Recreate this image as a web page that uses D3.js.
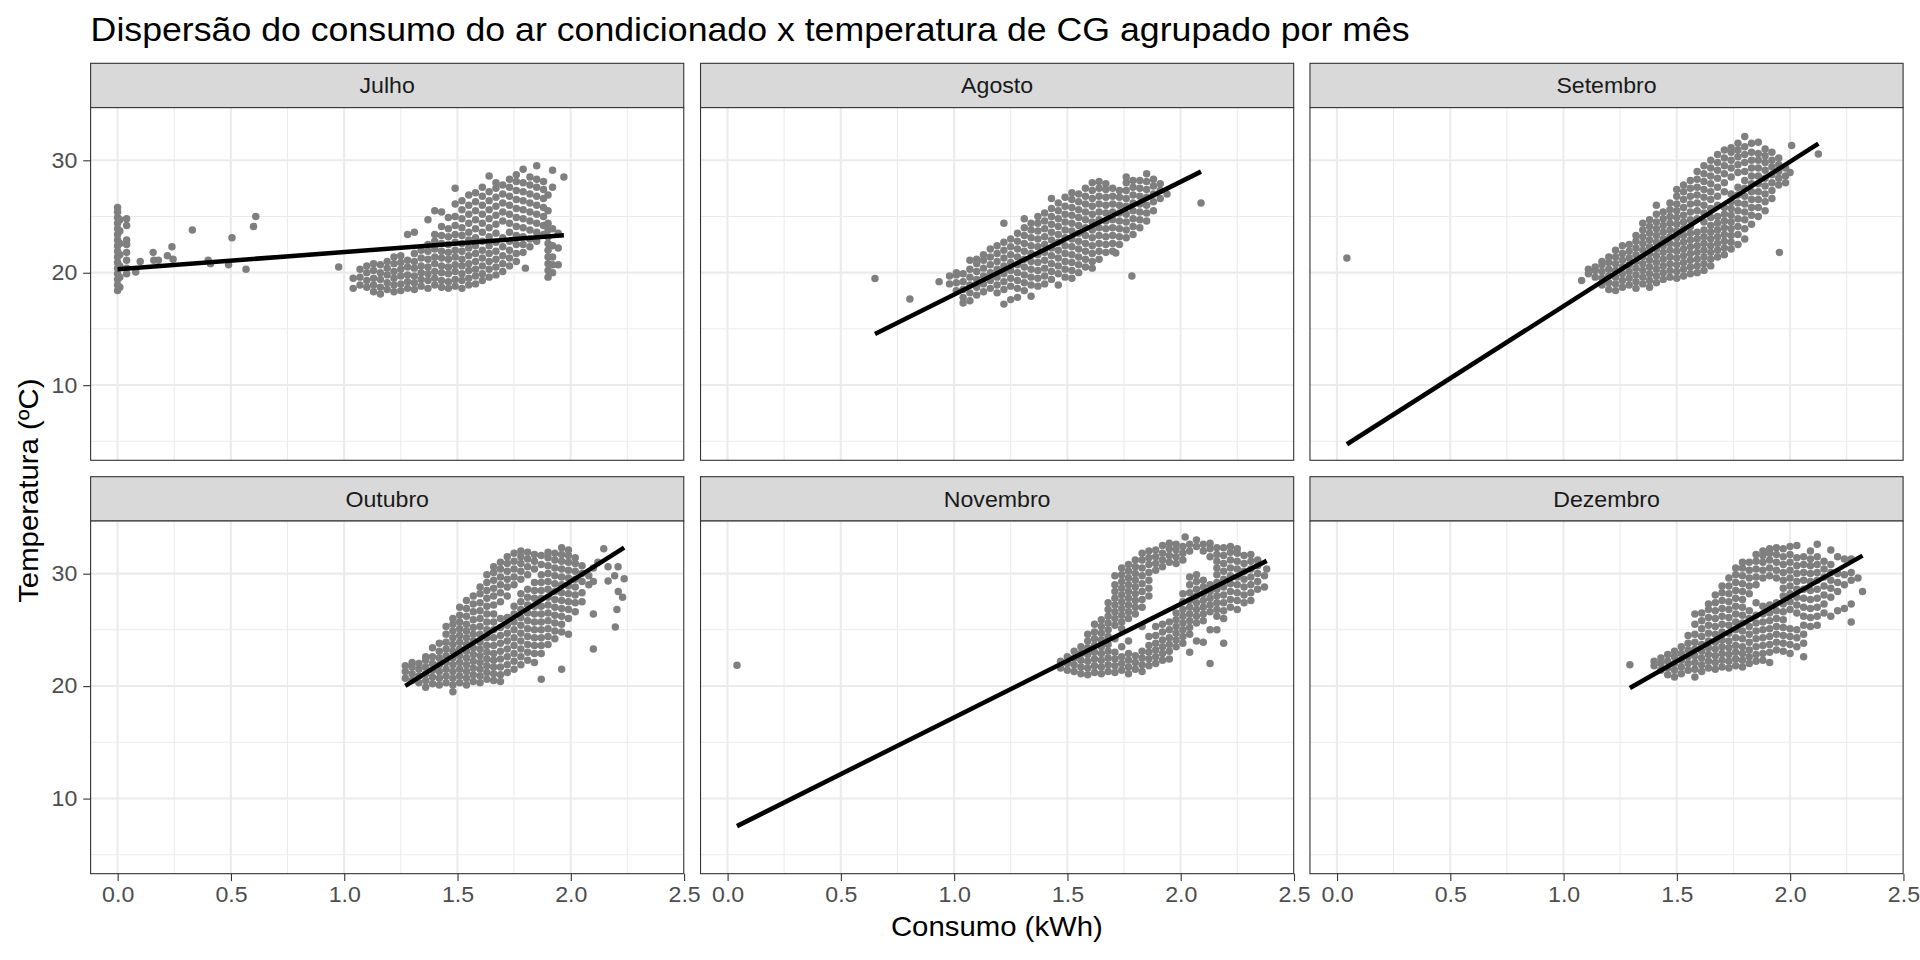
<!DOCTYPE html>
<html>
<head>
<meta charset="utf-8">
<script src="https://cdn.jsdelivr.net/npm/d3@7"></script>
<style>
  body { margin: 0; background: #fff; }
  svg { display: block; }
  text { font-family: "Liberation Sans", Arial, Helvetica, sans-serif; }
</style>
</head>
<body>
<div id="chart"></div>
<script>
// facet labels
var months = ['Julho', 'Agosto', 'Setembro', 'Outubro', 'Novembro', 'Dezembro'];

// each row: [consumo (kWh), temperatura, temperatura, ...]
var julho = [
  [0.0, 18.4, 18.9, 19.4, 19.9, 20.4, 20.9, 21.4, 21.9, 22.4, 22.9, 23.4, 23.9, 24.4, 24.9, 25.4, 25.8],
  [0.01, 18.7, 19.6, 20.6, 21.6, 22.6, 23.7, 24.7],
  [0.04, 19.9, 20.4, 21.1, 21.8, 22.5, 22.9, 24.2, 24.8],
  [0.08, 20.05], [0.1, 21.0], [0.157, 21.8], [0.16, 21.1], [0.18, 21.1], [0.22, 21.5],
  [0.24, 22.3], [0.245, 21.2], [0.33, 23.8], [0.4, 21.1], [0.41, 20.8], [0.49, 20.7],
  [0.505, 23.1], [0.567, 20.3], [0.6, 24.1], [0.61, 25.0], [0.976, 20.5],
  [1.04, 18.6, 19.5],
  [1.07, 18.9, 19.6, 20.3],
  [1.10, 18.7, 19.3, 20.0, 20.6],
  [1.13, 18.3, 18.9, 19.5, 20.2, 20.8],
  [1.16, 18.1, 18.7, 19.4, 20.0, 20.7],
  [1.19, 18.5, 19.1, 19.8, 20.4, 21.0],
  [1.22, 18.3, 18.9, 19.5, 20.1, 20.8, 21.4],
  [1.25, 18.4, 19.0, 19.7, 20.3, 20.9, 21.5],
  [1.28, 18.6, 19.2, 19.8, 20.5, 21.1, 23.4],
  [1.31, 18.5, 19.1, 19.7, 20.4, 21.0, 21.7, 23.6],
  [1.34, 18.8, 19.4, 20.0, 20.6, 21.3, 22.0],
  [1.37, 18.6, 19.3, 19.9, 20.5, 21.2, 21.9, 22.5, 24.7],
  [1.40, 18.9, 19.5, 20.1, 20.8, 21.4, 22.1, 22.8, 23.4, 25.5],
  [1.43, 18.7, 19.3, 20.0, 20.6, 21.3, 21.9, 22.6, 23.3, 24.1, 25.4],
  [1.46, 18.6, 19.2, 19.9, 20.5, 21.2, 21.8, 22.5, 23.2, 23.9, 24.9],
  [1.49, 18.8, 19.4, 20.1, 20.7, 21.4, 22.0, 22.7, 23.4, 24.2, 25.0, 26.1, 27.5],
  [1.52, 18.6, 19.3, 19.9, 20.6, 21.2, 21.9, 22.6, 23.3, 24.0, 24.8, 25.6, 26.4],
  [1.55, 18.9, 19.5, 20.2, 20.8, 21.5, 22.2, 22.9, 23.6, 24.4, 25.2, 26.0, 26.9],
  [1.58, 19.0, 19.7, 20.3, 21.0, 21.7, 22.4, 23.1, 23.9, 24.7, 25.5, 26.3, 27.1],
  [1.61, 19.3, 19.9, 20.6, 21.3, 22.0, 22.8, 23.6, 24.4, 25.2, 26.0, 26.8, 27.6],
  [1.64, 19.6, 20.3, 21.0, 21.7, 22.4, 23.2, 24.0, 24.8, 25.6, 26.4, 27.2, 28.6],
  [1.67, 19.8, 20.5, 21.2, 21.9, 22.7, 23.5, 24.3, 25.1, 25.9, 26.7, 27.5, 28.0],
  [1.70, 20.1, 20.8, 21.5, 22.3, 23.1, 24.6, 25.4, 26.2, 27.0, 27.8],
  [1.73, 20.6, 21.3, 22.0, 22.8, 23.6, 24.4, 25.2, 26.0, 26.8, 27.6, 28.3],
  [1.76, 21.0, 21.7, 22.5, 23.3, 24.1, 24.9, 25.7, 26.5, 27.3, 28.1, 28.7],
  [1.79, 21.8, 22.5, 23.2, 24.0, 24.8, 25.6, 26.4, 27.2, 28.0, 29.2],
  [1.80, 20.4],
  [1.82, 22.3, 23.0, 23.8, 24.6, 25.4, 26.2, 27.0, 27.8, 28.5],
  [1.85, 22.8, 23.6, 24.4, 25.2, 26.0, 26.8, 27.6, 28.3, 29.5],
  [1.88, 23.4, 24.2, 25.0, 25.8, 26.6, 27.4, 28.1],
  [1.90, 19.6, 20.2, 20.8, 21.4, 22.0, 22.6, 23.2, 23.8, 24.4, 25.5, 26.9],
  [1.92, 20.0, 20.7, 21.4, 22.4, 23.9, 27.6, 29.1],
  [1.945, 20.7, 22.2, 23.5],
  [1.97, 28.5]
];

var agosto = [
  [0.651, 19.47], [0.805, 17.66], [0.934, 19.2], [2.09, 26.2], [1.785, 19.7], [1.714, 21.75],
  [0.98, 19.0, 19.7],
  [1.01, 18.4, 19.1, 19.8, 20.0],
  [1.04, 17.3, 17.8, 18.5, 19.2, 19.9],
  [1.07, 17.5, 18.2, 18.9, 19.6, 20.3, 21.1],
  [1.10, 18.0, 18.7, 19.4, 20.1, 20.8, 21.2],
  [1.13, 18.3, 19.0, 19.7, 20.4, 21.1, 21.6],
  [1.16, 18.6, 19.3, 20.0, 20.7, 21.4, 22.1],
  [1.19, 18.2, 18.9, 19.6, 20.3, 21.0, 21.7, 22.4],
  [1.22, 17.2, 18.5, 19.2, 19.9, 20.6, 21.3, 22.0, 22.7, 24.4],
  [1.25, 17.6, 18.8, 19.5, 20.2, 20.9, 21.6, 22.3, 23.0],
  [1.28, 17.8, 18.6, 19.3, 20.0, 20.7, 21.4, 22.1, 22.8, 23.5],
  [1.31, 18.4, 19.1, 19.8, 20.5, 21.2, 21.9, 22.6, 23.3, 24.0, 24.8],
  [1.34, 17.9, 18.9, 19.6, 20.3, 21.0, 21.7, 22.4, 23.1, 23.8, 24.4],
  [1.37, 18.8, 19.5, 20.2, 20.9, 21.6, 22.3, 23.0, 23.7, 24.4, 25.0],
  [1.40, 19.0, 19.7, 20.4, 21.1, 21.8, 22.5, 23.2, 23.9, 24.6, 25.3],
  [1.43, 19.4, 20.1, 20.8, 21.5, 22.2, 22.9, 23.6, 24.3, 25.0, 25.7, 26.6],
  [1.46, 18.9, 19.9, 20.6, 21.3, 22.0, 22.7, 23.4, 24.1, 24.8, 25.5, 26.2],
  [1.49, 19.6, 20.3, 21.0, 21.7, 22.4, 23.1, 23.8, 24.5, 25.2, 25.9, 26.7],
  [1.52, 19.5, 20.2, 20.9, 21.6, 22.3, 23.0, 23.7, 24.4, 25.1, 25.8, 26.5, 27.1],
  [1.55, 20.0, 20.7, 21.4, 22.1, 22.8, 23.5, 24.2, 24.9, 25.6, 26.3, 27.0],
  [1.58, 20.5, 21.2, 21.9, 22.6, 23.3, 24.0, 24.7, 25.4, 26.1, 26.8, 27.5],
  [1.61, 20.4, 21.0, 21.7, 22.4, 23.1, 23.8, 24.5, 25.2, 25.9, 26.6, 27.3, 28.0],
  [1.64, 21.2, 21.9, 22.6, 23.3, 24.0, 24.7, 25.4, 26.1, 26.8, 27.5, 28.1],
  [1.67, 21.8, 22.5, 23.2, 23.9, 24.6, 25.3, 26.0, 26.7, 27.4, 27.9],
  [1.70, 21.9, 22.6, 23.3, 24.0, 24.7, 25.4, 26.1, 26.8, 27.5],
  [1.73, 22.5, 23.2, 23.9, 24.6, 25.3, 26.0, 26.7, 27.3],
  [1.76, 23.1, 23.8, 24.5, 25.2, 25.9, 26.6, 27.3, 28.0, 28.5],
  [1.79, 23.4, 24.1, 24.8, 25.5, 26.2, 26.9, 27.6, 28.2],
  [1.82, 24.0, 24.7, 25.4, 26.1, 26.8, 27.5, 28.2],
  [1.85, 24.6, 25.3, 26.0, 26.7, 27.4, 28.1, 28.8],
  [1.88, 25.5, 26.3, 27.0, 27.7, 28.3],
  [1.91, 26.6, 27.3, 27.9],
  [1.94, 27.0]
];

var setembro = [
  [0.044, 21.3], [1.953, 21.8], [2.125, 30.56], [2.007, 31.3],
  [1.08, 19.3],
  [1.11, 19.9, 20.3],
  [1.14, 19.6, 20.2, 20.5],
  [1.17, 18.9, 19.5, 20.1, 20.7, 21.0],
  [1.20, 18.5, 19.1, 19.7, 20.3, 20.9, 21.4],
  [1.23, 18.4, 19.0, 19.6, 20.2, 20.8, 21.4, 22.0],
  [1.26, 18.7, 19.3, 19.9, 20.5, 21.1, 21.7, 22.4],
  [1.29, 18.9, 19.5, 20.1, 20.7, 21.3, 21.9, 22.5],
  [1.32, 18.6, 19.2, 19.8, 20.4, 21.0, 21.6, 22.2, 22.8, 23.3],
  [1.35, 19.0, 19.6, 20.2, 20.8, 21.4, 22.0, 22.6, 23.2, 23.8, 24.4],
  [1.38, 18.7, 19.3, 19.9, 20.5, 21.1, 21.7, 22.3, 22.9, 23.5, 24.1, 24.7],
  [1.41, 19.1, 19.7, 20.3, 20.9, 21.5, 22.1, 22.7, 23.3, 23.9, 24.5, 25.2, 26.0],
  [1.44, 19.4, 20.0, 20.6, 21.2, 21.8, 22.4, 23.0, 23.6, 24.2, 24.8, 25.4],
  [1.47, 19.6, 20.2, 20.8, 21.4, 22.0, 22.6, 23.2, 23.8, 24.4, 25.0, 25.6, 26.2],
  [1.50, 19.5, 20.1, 20.7, 21.3, 21.9, 22.5, 23.1, 23.7, 24.3, 24.9, 25.5, 26.1, 26.8, 27.4],
  [1.53, 19.7, 20.3, 20.9, 21.5, 22.1, 22.7, 23.3, 23.9, 24.5, 25.1, 25.8, 26.5, 27.2, 27.8],
  [1.56, 19.9, 20.5, 21.1, 21.7, 22.3, 22.9, 23.5, 24.1, 24.7, 25.4, 26.1, 26.8, 27.5, 28.2],
  [1.59, 20.0, 20.6, 21.2, 21.8, 22.4, 23.0, 23.6, 24.8, 25.5, 26.2, 26.9, 27.6, 28.3, 29.0],
  [1.62, 20.2, 20.8, 21.4, 22.0, 22.6, 23.2, 23.8, 24.5, 25.3, 26.0, 26.7, 27.4, 28.1, 28.8, 29.5],
  [1.65, 20.6, 21.2, 21.8, 22.4, 23.0, 23.6, 24.2, 24.9, 25.7, 26.5, 27.2, 27.9, 28.6, 29.3, 30.0],
  [1.68, 21.4, 22.0, 22.6, 23.2, 23.8, 24.4, 25.0, 26.0, 26.8, 27.6, 28.4, 29.1, 29.8, 30.5],
  [1.71, 21.6, 22.2, 22.8, 23.4, 24.0, 24.6, 25.2, 25.8, 27.2, 28.0, 28.8, 29.5, 30.2, 30.9],
  [1.74, 22.1, 22.7, 23.3, 23.9, 24.5, 25.1, 25.7, 26.3, 27.0, 28.5, 29.3, 30.0, 30.7, 31.1],
  [1.77, 22.5, 23.4, 24.1, 24.8, 25.5, 26.2, 26.9, 27.6, 28.9, 29.6, 30.3, 30.9, 31.5],
  [1.80, 23.0, 23.9, 24.7, 25.4, 26.1, 26.8, 27.5, 28.2, 29.0, 29.8, 30.5, 31.2, 32.1],
  [1.83, 24.3, 25.1, 25.8, 26.5, 27.2, 27.9, 28.6, 29.3, 30.0, 30.7, 31.5],
  [1.86, 25.0, 25.8, 26.5, 27.2, 27.9, 28.6, 29.3, 30.0, 30.6, 31.6],
  [1.89, 25.5, 26.3, 27.0, 27.7, 28.4, 29.1, 29.8, 30.4, 31.0],
  [1.92, 26.6, 27.3, 28.0, 28.7, 29.4, 30.0, 30.7],
  [1.95, 27.8, 28.4, 29.0, 29.6, 30.2],
  [1.98, 28.0, 28.6, 29.3],
  [2.00, 28.9]
];

var outubro = [
  [1.27, 20.7, 21.3, 21.8],
  [1.30, 20.5, 21.1, 21.7, 22.1],
  [1.33, 20.3, 20.9, 21.5, 22.0],
  [1.36, 19.9, 20.5, 21.1, 21.7, 22.3, 22.6],
  [1.39, 20.2, 20.8, 21.4, 22.0, 22.6, 23.4],
  [1.42, 20.1, 20.7, 21.3, 21.9, 22.5, 23.1, 23.8],
  [1.45, 20.3, 20.9, 21.5, 22.1, 22.7, 23.3, 23.9, 24.6, 25.3],
  [1.48, 19.5, 20.1, 20.7, 21.3, 21.9, 22.5, 23.1, 23.7, 24.3, 24.9, 25.5, 26.0],
  [1.51, 20.3, 20.9, 21.5, 22.1, 22.7, 23.3, 23.9, 24.5, 25.1, 25.7, 26.3, 27.0],
  [1.54, 20.1, 20.7, 21.3, 21.9, 22.5, 23.1, 23.7, 24.3, 24.9, 25.5, 26.2, 26.9, 27.6],
  [1.57, 20.4, 21.0, 21.6, 22.2, 22.8, 23.4, 24.0, 24.6, 25.2, 25.9, 26.6, 27.3, 28.0],
  [1.60, 20.3, 20.9, 21.5, 22.1, 22.7, 23.3, 23.9, 24.6, 25.3, 26.0, 26.7, 27.4, 28.2, 28.8],
  [1.63, 20.6, 21.2, 21.8, 22.4, 23.0, 23.6, 24.3, 25.0, 25.7, 26.4, 27.1, 27.8, 28.5, 29.2, 29.9],
  [1.66, 20.5, 21.1, 21.7, 22.3, 22.9, 23.6, 24.3, 25.0, 25.7, 26.4, 27.2, 28.0, 28.7, 29.4, 30.1, 30.6],
  [1.69, 20.4, 21.0, 21.7, 22.4, 23.1, 23.8, 24.5, 25.2, 26.0, 27.5, 28.3, 29.0, 29.7, 30.4, 31.0],
  [1.72, 21.2, 21.9, 22.6, 23.3, 24.0, 24.7, 25.4, 26.1, 28.0, 28.8, 29.5, 30.2, 30.9, 31.5],
  [1.75, 21.5, 22.2, 22.9, 23.6, 24.3, 25.0, 25.7, 26.4, 27.1, 29.0, 29.7, 30.4, 31.1, 31.8],
  [1.78, 21.9, 22.6, 23.3, 24.0, 24.7, 25.4, 26.1, 26.8, 27.5, 28.2, 29.5, 30.2, 30.9, 31.5, 32.0],
  [1.81, 22.3, 23.0, 23.7, 24.4, 25.1, 25.8, 26.5, 27.2, 27.9, 28.6, 29.9, 30.6, 31.3, 31.9],
  [1.84, 22.1, 22.9, 23.6, 24.3, 25.0, 25.7, 26.4, 27.1, 27.8, 28.5, 29.2, 30.4, 31.1, 31.7],
  [1.87, 20.6, 22.9, 23.6, 24.3, 25.0, 25.7, 26.4, 27.1, 27.8, 28.5, 29.2, 29.9, 30.8, 31.6],
  [1.90, 23.7, 24.4, 25.1, 25.8, 26.5, 27.2, 27.9, 28.6, 29.3, 30.0, 30.7, 31.4, 31.9],
  [1.93, 24.2, 24.9, 25.6, 26.3, 27.0, 27.7, 28.4, 29.1, 29.8, 30.5, 31.2, 31.8],
  [1.96, 21.5, 24.8, 25.5, 26.2, 26.9, 27.6, 28.3, 29.0, 29.7, 30.4, 31.1, 31.7, 32.3],
  [1.99, 24.6, 26.0, 26.8, 27.5, 28.2, 28.9, 29.6, 30.3, 31.0, 31.6, 32.1],
  [2.02, 26.6, 27.4, 28.1, 28.8, 29.5, 30.2, 30.9, 31.4],
  [2.05, 27.5, 28.3, 29.3, 30.0, 30.7],
  [2.08, 29.0, 29.8],
  [2.10, 23.3, 26.4, 29.3, 30.5],
  [2.12, 31.0], [2.146, 32.2], [2.165, 30.6, 29.35], [2.194, 29.8], [2.197, 25.25],
  [2.204, 26.8], [2.209, 30.6], [2.21, 28.4], [2.229, 27.9], [2.236, 29.55]
];

var novembro = [
  [0.042, 21.84],
  [1.47, 21.6, 22.2],
  [1.50, 21.4, 22.0, 22.6],
  [1.53, 21.3, 21.9, 22.5, 23.1],
  [1.56, 21.1, 21.7, 22.3, 22.9, 23.5],
  [1.59, 21.0, 21.6, 22.2, 22.8, 23.4, 24.0, 24.6],
  [1.62, 21.2, 21.8, 22.4, 23.0, 23.6, 24.2, 24.8, 25.5],
  [1.65, 21.1, 21.7, 22.3, 22.9, 23.5, 24.1, 24.7, 25.3, 25.9],
  [1.68, 21.3, 21.9, 22.5, 23.1, 23.7, 24.4, 25.0, 25.6, 26.2, 26.8, 27.4],
  [1.71, 21.2, 21.8, 22.4, 23.0, 24.2, 25.4, 26.0, 26.6, 27.2, 27.8, 28.4, 29.0, 29.8],
  [1.74, 21.4, 22.0, 22.6, 23.5, 25.1, 25.7, 26.3, 26.9, 27.5, 28.1, 28.7, 29.3, 29.9, 30.5],
  [1.77, 21.1, 21.7, 22.3, 22.9, 24.0, 26.0, 26.6, 27.2, 27.8, 28.4, 29.0, 29.6, 30.2, 30.8],
  [1.80, 21.5, 22.1, 22.7, 26.4, 27.0, 27.6, 28.2, 28.8, 29.4, 30.0, 30.6, 31.2],
  [1.83, 21.3, 21.9, 22.5, 23.1, 25.3, 27.0, 27.7, 28.4, 29.1, 29.8, 30.5, 31.2, 31.8],
  [1.86, 21.8, 22.4, 23.0, 23.6, 24.4, 28.0, 28.7, 29.4, 30.1, 30.8, 31.4, 32.0],
  [1.89, 22.0, 22.6, 23.2, 23.8, 24.5, 25.3, 30.3, 30.9, 31.5, 32.1],
  [1.92, 22.3, 22.9, 23.5, 24.1, 24.8, 25.5, 30.6, 31.2, 31.8, 32.5],
  [1.95, 22.4, 23.1, 23.7, 24.3, 25.0, 25.7, 31.0, 31.6, 32.2, 32.7],
  [1.98, 23.5, 24.1, 24.7, 25.3, 25.9, 26.5, 30.9, 31.5, 32.1, 32.6],
  [2.01, 23.8, 24.4, 25.0, 25.6, 26.2, 26.8, 27.5, 28.2, 31.2, 31.8, 32.4],
  [2.02, 33.25],
  [2.04, 23.0, 24.6, 25.2, 25.8, 26.4, 27.0, 27.6, 28.3, 29.0, 29.7, 32.0, 32.6],
  [2.07, 24.0, 25.6, 26.2, 26.8, 27.4, 28.0, 28.6, 29.3, 29.9, 32.4, 33.0],
  [2.10, 23.9, 25.8, 26.4, 27.0, 27.6, 28.2, 28.8, 29.4, 32.0, 32.6],
  [2.13, 22.0, 25.0, 26.6, 27.2, 27.8, 28.4, 29.0, 31.5, 32.2, 32.7],
  [2.16, 25.0, 26.2, 26.8, 27.4, 28.0, 28.6, 29.2, 29.9, 30.5, 31.1, 31.7, 32.3],
  [2.19, 23.8, 26.0, 26.7, 27.4, 28.1, 28.8, 29.5, 30.2, 30.9, 31.6, 32.3],
  [2.22, 27.0, 27.7, 28.4, 29.1, 29.8, 30.5, 31.2, 31.9, 32.4],
  [2.25, 26.8, 27.6, 28.3, 29.0, 29.7, 30.4, 31.1, 31.8, 32.2],
  [2.28, 27.4, 28.1, 28.8, 29.5, 30.2, 30.9, 31.6],
  [2.31, 27.6, 28.3, 29.0, 29.7, 30.4, 31.1, 31.7],
  [2.34, 28.6, 29.3, 30.0, 30.7, 31.2],
  [2.37, 28.8, 29.8],
  [2.38, 30.4]
];

var dezembro = [
  [1.293, 21.9],
  [1.40, 21.8, 22.2],
  [1.43, 21.4, 22.0, 22.5],
  [1.46, 21.0, 21.6, 22.2, 22.8],
  [1.49, 20.8, 21.4, 22.0, 22.6, 23.1],
  [1.52, 21.1, 21.7, 22.3, 22.9, 23.5],
  [1.55, 21.4, 22.0, 22.6, 23.2, 23.8, 24.5],
  [1.58, 20.8, 21.5, 22.1, 22.7, 23.3, 23.9, 24.6, 25.5, 26.4],
  [1.61, 21.3, 21.9, 22.5, 23.1, 23.7, 24.4, 25.1, 25.8, 26.5],
  [1.64, 21.6, 22.2, 22.8, 23.4, 24.0, 24.7, 25.4, 26.1, 26.8, 27.3],
  [1.67, 21.5, 22.1, 22.7, 23.3, 23.9, 24.6, 25.3, 26.0, 26.7, 27.4, 28.1],
  [1.70, 21.7, 22.3, 22.9, 23.5, 24.1, 24.8, 25.5, 26.2, 26.9, 27.6, 28.3, 28.9],
  [1.73, 21.6, 22.2, 22.8, 23.4, 24.0, 24.7, 25.4, 26.1, 26.8, 27.5, 28.2, 28.9, 29.6],
  [1.76, 21.8, 22.4, 23.0, 23.6, 24.3, 25.0, 25.7, 26.4, 27.1, 27.8, 28.5, 29.2, 29.9, 30.5],
  [1.79, 21.7, 22.3, 22.9, 23.5, 24.2, 24.9, 25.6, 26.3, 27.0, 27.7, 28.4, 29.1, 29.8, 30.5, 31.0],
  [1.82, 22.0, 22.6, 23.2, 23.9, 24.6, 25.3, 26.0, 26.7, 28.2, 28.9, 29.6, 30.3, 31.0],
  [1.85, 22.2, 22.8, 23.5, 24.2, 24.9, 25.6, 26.3, 27.4, 29.0, 29.7, 30.4, 31.1, 31.7],
  [1.88, 22.3, 22.9, 23.6, 24.3, 25.0, 25.7, 26.4, 27.1, 29.6, 30.3, 31.0, 31.6, 32.0],
  [1.91, 22.1, 23.0, 23.7, 24.4, 25.1, 25.8, 26.5, 27.2, 29.8, 30.5, 31.2, 31.8, 32.2],
  [1.94, 23.2, 23.9, 24.6, 25.3, 26.0, 26.7, 27.4, 29.6, 30.3, 31.0, 31.7, 32.3],
  [1.97, 23.1, 23.8, 24.5, 25.2, 25.9, 26.6, 27.3, 28.0, 28.7, 29.4, 30.1, 30.8, 31.5, 32.2],
  [2.00, 22.9, 23.7, 24.4, 25.1, 26.8, 27.5, 28.2, 28.9, 29.6, 30.3, 31.0, 31.7, 32.4],
  [2.03, 23.5, 24.3, 25.0, 26.5, 27.2, 27.9, 28.6, 29.3, 30.0, 30.7, 31.4, 32.5],
  [2.06, 22.6, 23.8, 24.6, 25.4, 26.2, 27.0, 27.8, 28.6, 29.4, 30.1, 30.8, 31.5],
  [2.09, 25.3, 26.1, 26.9, 27.7, 28.5, 29.3, 30.0, 30.7, 31.3, 32.0],
  [2.12, 25.4, 26.2, 27.0, 27.8, 28.6, 29.4, 30.1, 30.8, 31.5, 32.6],
  [2.15, 26.5, 27.3, 28.1, 28.9, 29.7, 30.4, 31.1],
  [2.18, 26.2, 27.9, 28.7, 29.4, 30.1, 30.8, 32.1],
  [2.21, 26.7, 28.4, 29.2, 30.0, 31.5],
  [2.24, 26.9, 29.0, 29.9, 31.3],
  [2.27, 25.7, 27.3, 29.4, 30.1, 31.3],
  [2.30, 29.6],
  [2.32, 28.4]
];

// linear fit (geom_smooth, method = lm) per month
var fitIntercept = [20.3, 8.0, 4.17, 3.84, 7.116, 4.99];
var fitSlope = [1.531, 10.04, 12.85, 12.73, 10.09, 11.47];

var xTicks = [0, 0.5, 1, 1.5, 2, 2.5];
var xMinor = [0.25, 0.75, 1.25, 1.75, 2.25];
var yTicks = [10, 20, 30];
var yMinor = [5, 15, 25];

var title = 'Dispersão do consumo do ar condicionado x temperatura de CG agrupado por mês';
var xTitle = 'Consumo (kWh)';
var yTitle = 'Temperatura (ºC)';

// ---------------------------------------------------------------
var W = 1568, H = 784;
var colLeft = [74, 572.1, 1069.8];
var panelW = 484.4;
var stripTop = [51.7, 389.3];
var stripH = 36.2;
var panelH = 288;
var tickLen = 6.05, tickPad = 4.84;
var fontTick = 17.5;
var wide = 1.08;   // the original font runs a bit wider than Liberation Sans

function unpack(rows) {
    var pts = [];
    rows.forEach(function(r) {
        for (var i = 1; i < r.length; i++) pts.push({ x: r[0], y: r[i] });
    });
    return pts;
}

var panels = [julho, agosto, setembro, outubro, novembro, dezembro].map(function(rows, i) {
    var pts = unpack(rows);
    var ext = d3.extent(pts, function(d) { return d.x; });
    var fit = ext.map(function(x) { return { x: x, y: fitIntercept[i] + fitSlope[i] * x }; });
    return { name: months[i], points: pts, fit: fit, col: i % 3, row: Math.floor(i / 3) };
});

// fixed scales shared by all facets, 5% expansion like ggplot
var allX = [], allY = [];
panels.forEach(function(p) {
    p.points.concat(p.fit).forEach(function(d) { allX.push(d.x); allY.push(d.y); });
});
function expand(ext) {
    var pad = (ext[1] - ext[0]) * 0.05;
    return [ext[0] - pad, ext[1] + pad];
}
var x = d3.scaleLinear().domain(expand(d3.extent(allX))).range([0, panelW]);
var y = d3.scaleLinear().domain(expand(d3.extent(allY))).range([panelH, 0]);

var svg = d3.select('#chart').append('svg')
    .attr('width', 1920)
    .attr('height', 960)
    .attr('viewBox', '0 0 ' + W + ' ' + H);

svg.append('rect').attr('width', W).attr('height', H).attr('fill', '#fff');

function label(parent, tx, ty, rot, k, size, txt) {
    return parent.append('text')
        .attr('transform', 'translate(' + tx + ',' + ty + ') rotate(' + rot + ') scale(' + k + ',1)')
        .attr('font-size', size)
        .text(txt);
}

label(svg, 74, 33.2, 0, 1.06, 27.5, title).attr('fill', '#000');

var line = d3.line()
    .x(function(d) { return x(d.x); })
    .y(function(d) { return y(d.y); });

panels.forEach(function(p) {
    var left = colLeft[p.col];
    var sTop = stripTop[p.row];
    var pTop = sTop + stripH;

    // strip
    var strip = svg.append('g').attr('transform', 'translate(' + left + ',' + sTop + ')');
    strip.append('rect')
        .attr('width', panelW)
        .attr('height', stripH)
        .attr('fill', '#D9D9D9')
        .attr('stroke', '#333333')
        .attr('stroke-width', 0.9);
    label(strip, panelW / 2, stripH / 2 + 0.36 * fontTick, 0, wide, fontTick, p.name)
        .attr('text-anchor', 'middle')
        .attr('fill', '#1A1A1A');

    var g = svg.append('g').attr('transform', 'translate(' + left + ',' + pTop + ')');
    g.append('rect').attr('width', panelW).attr('height', panelH).attr('fill', '#fff');

    // grid
    g.selectAll('.xminor').data(xMinor).enter().append('line')
        .attr('x1', x).attr('x2', x).attr('y1', 0).attr('y2', panelH)
        .attr('stroke', '#EBEBEB').attr('stroke-width', 0.85);
    g.selectAll('.yminor').data(yMinor).enter().append('line')
        .attr('y1', y).attr('y2', y).attr('x1', 0).attr('x2', panelW)
        .attr('stroke', '#EBEBEB').attr('stroke-width', 0.85);
    g.selectAll('.xmajor').data(xTicks.filter(function(t) { return t < 2.5; })).enter().append('line')
        .attr('x1', x).attr('x2', x).attr('y1', 0).attr('y2', panelH)
        .attr('stroke', '#EBEBEB').attr('stroke-width', 1.7);
    g.selectAll('.ymajor').data(yTicks).enter().append('line')
        .attr('y1', y).attr('y2', y).attr('x1', 0).attr('x2', panelW)
        .attr('stroke', '#EBEBEB').attr('stroke-width', 1.7);

    // points
    g.append('g').selectAll('circle')
        .data(p.points)
        .enter()
        .append('circle')
        .attr('cx', function(d) { return x(d.x); })
        .attr('cy', function(d) { return y(d.y); })
        .attr('r', 3.05)
        .attr('fill', '#7F7F7F');

    // lm line
    g.append('path')
        .datum(p.fit)
        .attr('d', line)
        .attr('fill', 'none')
        .attr('stroke', '#000')
        .attr('stroke-width', 3.7);

    // border
    g.append('rect')
        .attr('width', panelW)
        .attr('height', panelH)
        .attr('fill', 'none')
        .attr('stroke', '#333333')
        .attr('stroke-width', 0.9);

    if (p.row === 1) {
        var ax = g.append('g')
            .attr('transform', 'translate(0,' + panelH + ')')
            .call(d3.axisBottom(x).tickValues(xTicks).tickFormat(d3.format('.1f'))
                .tickSize(tickLen).tickPadding(tickPad).tickSizeOuter(0));
        styleAxis(ax);
        ax.selectAll('.tick text').attr('transform', 'scale(' + wide + ',1)');
    }
    if (p.col === 0) {
        var ay = g.append('g')
            .call(d3.axisLeft(y).tickValues(yTicks)
                .tickSize(tickLen).tickPadding(tickPad).tickSizeOuter(0));
        styleAxis(ay);
        ay.selectAll('.tick text')
            .attr('x', -(tickLen + tickPad) / wide)
            .attr('transform', 'scale(' + wide + ',1)');
    }
});

function styleAxis(a) {
    a.select('.domain').remove();
    a.selectAll('.tick line').attr('stroke', '#333333').attr('stroke-width', 0.9);
    a.selectAll('.tick text')
        .attr('fill', '#4D4D4D')
        .attr('font-size', fontTick)
        .attr('font-family', '"Liberation Sans", Arial, Helvetica, sans-serif');
}

label(svg, (colLeft[0] + colLeft[2] + panelW) / 2, 764.4, 0, 1.09, 22, xTitle)
    .attr('text-anchor', 'middle')
    .attr('fill', '#000');

label(svg, 31.3, (stripTop[0] + stripH + stripTop[1] + stripH + panelH) / 2, -90, 1.09, 22, yTitle)
    .attr('text-anchor', 'middle')
    .attr('fill', '#000');
</script>
</body>
</html>
